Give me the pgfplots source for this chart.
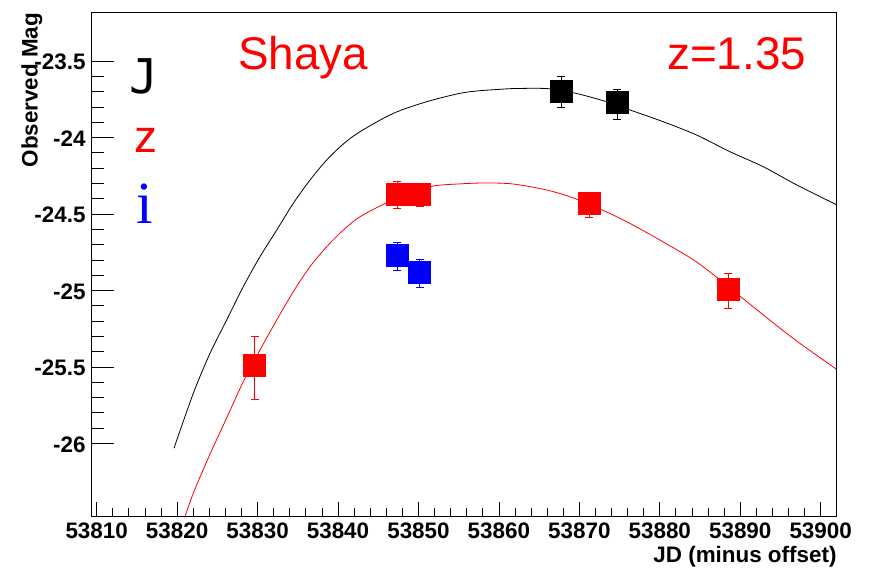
\documentclass[border=0pt]{standalone}
\usepackage{fontspec}
\setmainfont{Liberation Sans}
\newfontfamily\jfont{DejaVu Sans Mono}
\newfontfamily\ifont{Liberation Serif}
\usepackage{pgfplots}
\pgfplotsset{compat=1.18}

% common frame: same box, limits and tick placement for both layers
\pgfplotsset{
  rootframe/.style={
    scale only axis, width=745bp, height=503.3bp,
    xmin=53809.38, xmax=53901.99, ymin=-26.474, ymax=-23.184,
    scaled x ticks=false, scaled y ticks=false,
    axis line style={line width=1bp, black},
    tick pos=left, tick align=inside,
    tick style={line width=0.8bp, black},
  },
  lcpts/.style={
    only marks, mark=square*, mark size=11bp,
    mark options={solid, line width=0.5bp, draw=#1, fill=#1},
    color=#1,
    error bars/.cd, y dir=both, y explicit,
    error bar style={line width=0.8bp, #1},
    error mark options={rotate=90, mark size=4bp, line width=0.8bp, #1},
  },
}

\begin{document}
\begin{tikzpicture}
\begin{axis}[rootframe, name=main,
  xtick={53810,53820,53830,53840,53850,53860,53870,53880,53890,53900},
  xticklabels={53810,53820,53830,53840,53850,53860,53870,53880,53890,53900},
  minor x tick num=4,
  ytick={-26,-25.5,-25,-24.5,-24,-23.5},
  yticklabels={-26,-25.5,-25,-24.5,-24,-23.5},
  major tick length=14bp, minor tick length=8bp,
  ticklabel style={font=\fontsize{22.5}{27}\selectfont\bfseries},
  xticklabel style={anchor=base, yshift=-22.3bp, inner sep=0pt},
  yticklabel style={anchor=east, inner sep=0pt, xshift=-6bp, yshift=-1bp},
  xlabel={JD (minus offset)},
  xlabel style={at={(rel axis cs:1,0)}, anchor=base east, yshift=-46bp,
    inner sep=0pt, font=\fontsize{22.5}{27}\selectfont\bfseries},
  ylabel={Observed Mag},
  ylabel style={at={([xshift=-54bp]rel axis cs:0,1)}, anchor=base east,
    inner sep=0pt, font=\fontsize{22.5}{27}\selectfont\bfseries},
]
\coordinate (sw) at (rel axis cs:0,0);
\coordinate (ne) at (rel axis cs:1,1);

% J-band template
\addplot[black, line width=0.8bp, smooth] coordinates {
(53819.61,-26.031) (53822.01,-25.672) (53824.09,-25.410) (53826.16,-25.193)
(53828.22,-24.975) (53830.30,-24.779) (53832.38,-24.605) (53834.44,-24.430)
(53836.52,-24.278) (53838.59,-24.147) (53840.66,-24.042) (53842.73,-23.962)
(53846.87,-23.842) (53851.02,-23.766) (53855.16,-23.711) (53857.65,-23.694)
(53860.14,-23.685) (53861.79,-23.680) (53865.94,-23.680) (53869.25,-23.707)
(53873.40,-23.766) (53876.30,-23.820) (53880.44,-23.897) (53884.59,-23.984)
(53888.73,-24.093) (53892.87,-24.191) (53897.02,-24.310) (53901.99,-24.440)
};

% z-band template
\addplot[red, line width=0.8bp, smooth] coordinates {
(53820.98,-26.478) (53822.01,-26.325) (53824.09,-26.069) (53826.16,-25.833)
(53828.22,-25.596) (53830.30,-25.389) (53832.38,-25.193) (53834.44,-25.008)
(53836.52,-24.844) (53838.59,-24.714) (53840.66,-24.605) (53842.73,-24.518)
(53846.05,-24.426) (53848.95,-24.365) (53851.84,-24.317) (53855.16,-24.303)
(53858.40,-24.297) (53861.79,-24.304) (53865.94,-24.343) (53869.25,-24.395)
(53873.40,-24.487) (53876.30,-24.562) (53880.44,-24.683) (53884.59,-24.814)
(53888.73,-24.984) (53892.87,-25.160) (53897.02,-25.330) (53901.99,-25.516)
};

% photometry
\addplot[lcpts=black] coordinates {
(53867.74,-23.700) += (0,0.100) -= (0,0.100)
(53874.70,-23.771) += (0,0.088) -= (0,0.110)
};
\addplot[lcpts=red] coordinates {
(53829.62,-25.490) += (0,0.190) -= (0,0.220)
(53847.33,-24.368) += (0,0.079) -= (0,0.095)
(53850.13,-24.368) += (0,0.070) -= (0,0.085)
(53871.20,-24.431) += (0,0.060) -= (0,0.090)
(53888.48,-24.991) += (0,0.105) -= (0,0.123)
};
\addplot[lcpts=blue] coordinates {
(53847.33,-24.771) += (0,0.088) -= (0,0.095)
(53850.13,-24.882) += (0,0.088) -= (0,0.095)
};

\node[anchor=base, red, font=\fontsize{46}{50}\selectfont] at (axis cs:53835.67,-23.556) {Shaya};
\node[anchor=base, red, font=\fontsize{46}{50}\selectfont] at (axis cs:53889.54,-23.556) {z=1.35};
\node[anchor=base, black, font=\jfont\fontsize{48}{52}\selectfont] at (axis cs:53815.88,-23.709) {J};
\node[anchor=base, red, font=\fontsize{46}{50}\selectfont] at (axis cs:53816.13,-24.095) {z};
\node[anchor=base, blue, font=\ifont\fontsize{60}{64}\selectfont] at (axis cs:53816.0,-24.559) {i};
\end{axis}

% longer ticks on the magnitude axis
\begin{axis}[rootframe, at={(main.south west)}, anchor=south west,
  xtick=\empty,
  ytick={-26,-25.5,-25,-24.5,-24,-23.5}, yticklabels={},
  minor y tick num=4,
  major tick length=22bp, minor tick length=12bp,
]
\end{axis}

\path ([xshift=-91.7bp,yshift=-53bp]sw) rectangle ([xshift=32.3bp,yshift=12.7bp]ne);
\end{tikzpicture}
\end{document}
